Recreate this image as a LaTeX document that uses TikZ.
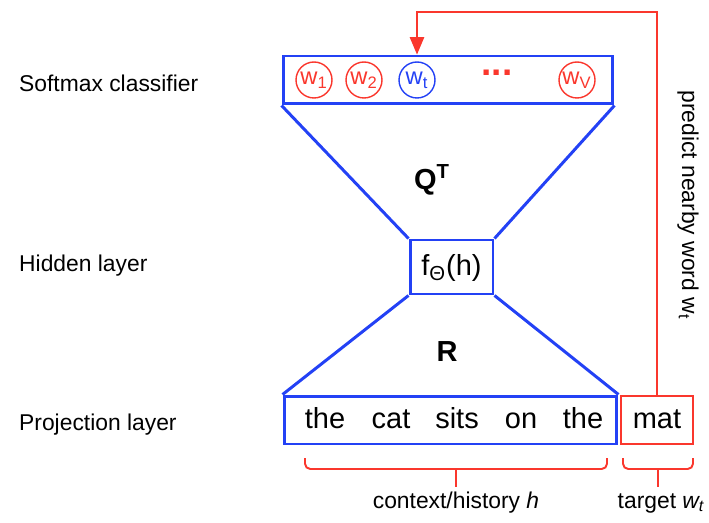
\documentclass[tikz,border=0pt]{standalone}
\usepackage{fontspec}
\setmainfont{Liberation Sans}
\usepackage{tikz}
\usetikzlibrary{arrows, positioning, calc}
\definecolor{netblue}{RGB}{35,65,245}
\definecolor{netred}{RGB}{250,55,45}

\begin{document}
\begin{tikzpicture}[x=0.02cm, y=-0.02cm,
  layer/.style={draw=netblue, line width=1.7pt, inner sep=0pt},
  wcirc/.style={circle, draw=netred, text=netred, line width=0.8pt, minimum size=0.72cm, inner sep=0pt, font=\fontsize{13.5}{15}\selectfont},
  redline/.style={draw=netred, line width=1.3pt},
  lbl/.style={anchor=west, font=\fontsize{13}{15}\selectfont},
  word/.style={font=\fontsize{16.5}{18}\selectfont, text height=1.1em, text depth=0.1em}]
  \useasboundingbox (0,0) rectangle (709,523);
  % Softmax classifier, hidden layer and projection layer
  \node[layer, minimum width=6.6cm, minimum height=0.96cm] (soft) at (448,80) {};
  \node[layer, minimum width=1.66cm, minimum height=1.08cm, word] (hid) at (451.5,267) {f\textsubscript{Θ}(h)};
  \node[layer, minimum width=6.66cm, minimum height=0.96cm] (proj) at (450.5,420) {};
  \node[redline, line width=1.3pt, minimum width=1.44cm, minimum height=0.96cm, inner sep=0pt, word] (mat) at (657,420) {mat};
  % Trapezoids between the layers
  \draw[netblue, line width=1.7pt] (soft.south west) -- (hid.north west);
  \draw[netblue, line width=1.7pt] (soft.south east) -- (hid.north east);
  \draw[netblue, line width=1.7pt] (hid.south west) -- (proj.north west);
  \draw[netblue, line width=1.7pt] (hid.south east) -- (proj.north east);
  \node[font=\bfseries\fontsize{16.5}{18}\selectfont] (qt) at (432,180) {Q\textsuperscript{T}};
  \node[font=\bfseries\fontsize{16.5}{18}\selectfont] (rr) at (447,352) {R};
  % Output words
  \node[wcirc] (w1) at (314,80) {w\textsubscript{1}};
  \node[wcirc] (w2) at (364,80) {w\textsubscript{2}};
  \node[wcirc, draw=netblue, text=netblue] (wt) at (417,80) {w\textsubscript{t}};
  \node[text=netred, font=\bfseries\fontsize{21}{22}\selectfont] (dots) at (497,73) {...};
  \node[wcirc] (wv) at (577,80) {w\textsubscript{V}};
  % Context words
  \foreach \w/\x [count=\i] in {the/325, cat/391, sits/457, on/521, the/583}
    \node[word] (ctx\i) at (\x,420) {\w};
  % Prediction arrow
  \coordinate (topR) at (657,12);
  \coordinate (topL) at (wt |- topR);
  \draw[redline, -triangle 45] (mat.north) -- (topR) -- (topL) -- (wt |- soft.north);
  \node[rotate=-90, font=\fontsize{13}{15}\selectfont] (pred) at (688,205) {predict nearby word w\textsubscript{t}};
  % Braces
  \draw[redline, line width=1.1pt, rounded corners=3pt] (305,458) -- (305,469) -- (607,469) -- (607,458);
  \draw[redline, line width=1.1pt] (456,469) -- (456,487);
  \draw[redline, line width=1.1pt, rounded corners=3pt] (623,458) -- (623,469) -- (693,469) -- (693,458);
  \draw[redline, line width=1.1pt] (658,469) -- (658,487);
  \node[font=\fontsize{13}{15}\selectfont] (ctxlbl) at (456,503) {context/history \textit{h}};
  \node[font=\fontsize{13}{15}\selectfont] (tgtlbl) at (661,503) {target \textit{w\textsubscript{t}}};
  % Layer names
  \node[lbl] (lsoft) at (13,83) {Softmax classifier};
  \node[lbl] (lhid) at (13,266) {Hidden layer};
  \node[lbl] (lproj) at (13,425) {Projection layer};
\end{tikzpicture}
\end{document}
